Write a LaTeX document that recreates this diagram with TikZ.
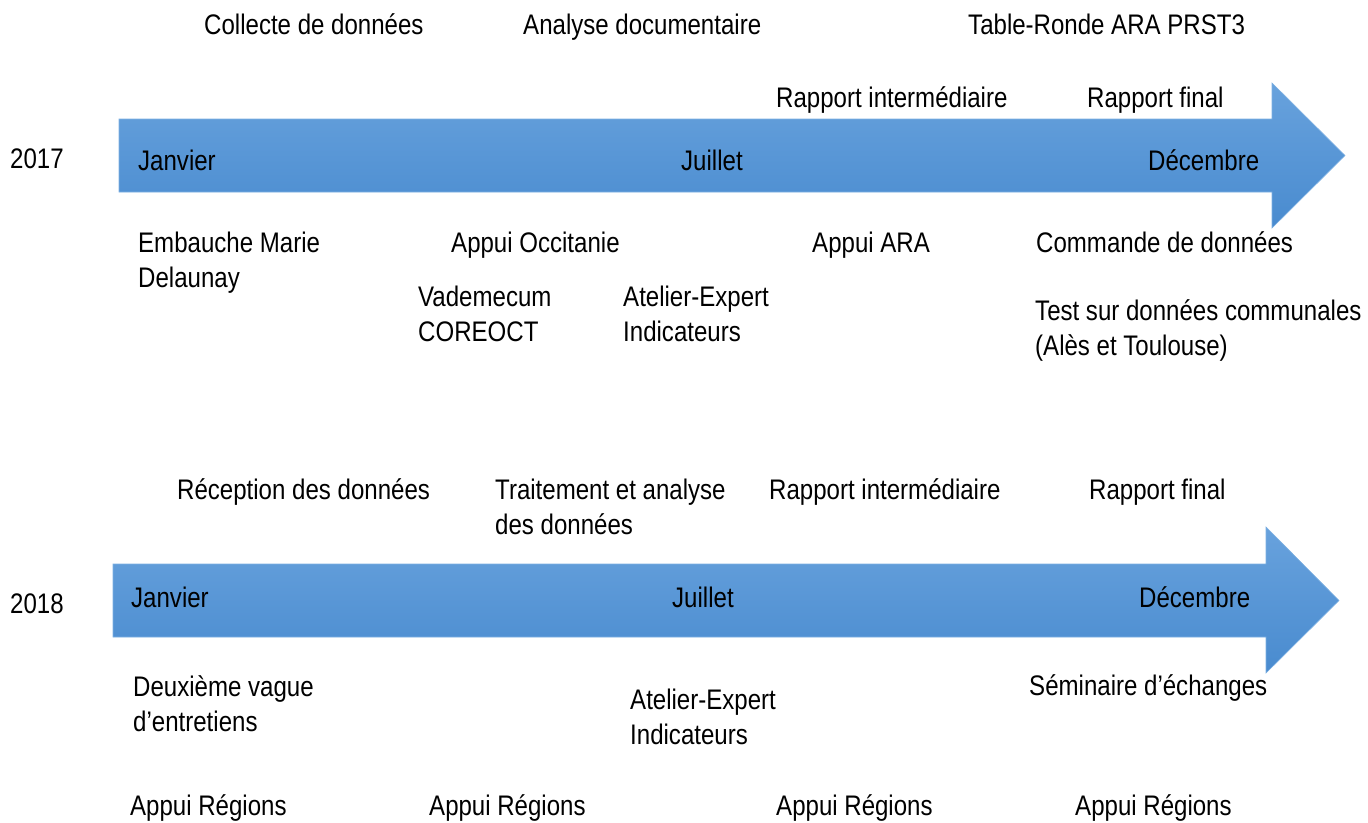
\documentclass[tikz,border=0pt]{standalone}
\usepackage{fontspec}
\setmainfont{Liberation Sans}[FakeStretch=0.85]

\definecolor{bandtop}{RGB}{104,162,221}
\definecolor{bandbot}{RGB}{73,139,207}
\definecolor{bandline}{RGB}{125,176,226}

% two-line texts sit on the baseline of their last line
\tikzstyle{txt} = [anchor=base west, inner sep=0pt, align=left,
font=\fontsize{28.3}{35}\selectfont]
\tikzstyle{band} = [top color=bandtop, bottom color=bandbot, draw=bandline,
line width=0.6pt]

\begin{document}
\begin{tikzpicture}[x=1pt, y=-1pt]
  \useasboundingbox (0,0) rectangle (1368,822);

  % 2017
  \draw [band] (119,119) -- (1272,119) -- (1272,83) -- (1345,155.5)
  -- (1272,228) -- (1272,192) -- (119,192) -- cycle;

  \node (collecte) [txt] at (204,34) {Collecte de données};
  \node (analyse) [txt] at (523,34) {Analyse documentaire};
  \node (table) [txt] at (968,34) {Table-Ronde ARA PRST3};
  \node (rapint17) [txt] at (776,107) {Rapport intermédiaire};
  \node (final17) [txt] at (1087,107) {Rapport final};

  \node (y17) [txt] at (10,168) {2017};
  \node (jan17) [txt] at (138,170) {Janvier};
  \node (jul17) [txt] at (681,170) {Juillet};
  \node (dec17) [txt] at (1148,170) {Décembre};

  \node (embauche) [txt] at (138,287) {Embauche Marie\\Delaunay};
  \node (occitanie) [txt] at (451,252) {Appui Occitanie};
  \node (ara) [txt] at (812,252) {Appui ARA};
  \node (commande) [txt] at (1036,252) {Commande de données};
  \node (vademecum) [txt] at (418,341) {Vademecum\\COREOCT};
  \node (atelier17) [txt] at (623,341) {Atelier-Expert\\Indicateurs};
  \node (test) [txt] at (1035,355) {Test sur données communales\\(Alès et Toulouse)};

  % 2018
  \draw [band] (113,564) -- (1266,564) -- (1266,527) -- (1339,600.5)
  -- (1266,673) -- (1266,637) -- (113,637) -- cycle;

  \node (reception) [txt] at (177,499) {Réception des données};
  \node (traitement) [txt] at (495,534) {Traitement et analyse\\des données};
  \node (rapint18) [txt] at (769,499) {Rapport intermédiaire};
  \node (final18) [txt] at (1089,499) {Rapport final};

  \node (y18) [txt] at (10,613) {2018};
  \node (jan18) [txt] at (131,607) {Janvier};
  \node (jul18) [txt] at (672,607) {Juillet};
  \node (dec18) [txt] at (1139,607) {Décembre};

  \node (vague) [txt] at (133,731) {Deuxième vague\\d’entretiens};
  \node (atelier18) [txt] at (630,744) {Atelier-Expert\\Indicateurs};
  \node (seminaire) [txt] at (1029,695) {Séminaire d’échanges};

  \node (appui1) [txt] at (130,815) {Appui Régions};
  \node (appui2) [txt] at (429,815) {Appui Régions};
  \node (appui3) [txt] at (776,815) {Appui Régions};
  \node (appui4) [txt] at (1075,815) {Appui Régions};

\end{tikzpicture}
\end{document}
